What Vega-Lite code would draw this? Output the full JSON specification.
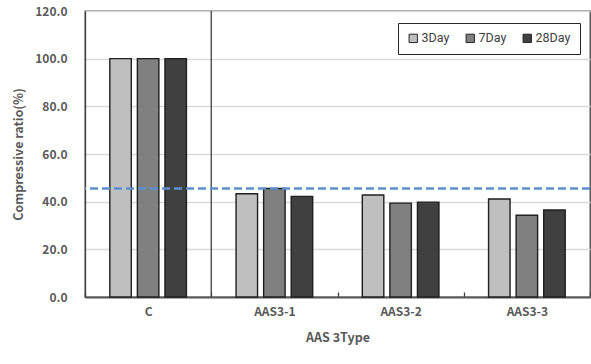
{
  "$schema": "https://vega.github.io/schema/vega-lite/v6.json",
  "width": 505,
  "height": 286,
  "autosize": {"type": "none"},
  "padding": {"left": 85, "top": 11, "right": 1, "bottom": 67},
  "background": "white",
  "config": {
    "font": "Noto Sans CJK KR",
    "view": {"stroke": "#404040", "strokeWidth": 1.3}
  },
  "datasets": {
    "strength": [
      {"type": "C", "day": "3Day", "ratio": 100.0},
      {"type": "C", "day": "7Day", "ratio": 100.0},
      {"type": "C", "day": "28Day", "ratio": 100.0},
      {"type": "AAS3-1", "day": "3Day", "ratio": 43.3},
      {"type": "AAS3-1", "day": "7Day", "ratio": 45.5},
      {"type": "AAS3-1", "day": "28Day", "ratio": 42.2},
      {"type": "AAS3-2", "day": "3Day", "ratio": 42.8},
      {"type": "AAS3-2", "day": "7Day", "ratio": 39.4},
      {"type": "AAS3-2", "day": "28Day", "ratio": 39.8},
      {"type": "AAS3-3", "day": "3Day", "ratio": 41.1},
      {"type": "AAS3-3", "day": "7Day", "ratio": 34.3},
      {"type": "AAS3-3", "day": "28Day", "ratio": 36.5}
    ],
    "separator": [{"type": "C"}],
    "reference": [{"ratio": 45.5}]
  },
  "layer": [
    {
      "data": {"name": "strength"},
      "mark": {"type": "bar", "stroke": "#1f1f1f", "strokeWidth": 1.4},
      "encoding": {
        "x": {
          "field": "type",
          "type": "nominal",
          "sort": null,
          "scale": {"domain": ["C", "AAS3-1", "AAS3-2", "AAS3-3"], "paddingInner": 0, "paddingOuter": 0},
          "axis": {
            "title": "AAS 3Type",
            "titleFont": "Noto Sans CJK KR",
            "titleFontSize": 12.5,
            "titleFontWeight": "bold",
            "titleColor": "#595959",
            "titlePadding": 14,
            "labelAngle": 0,
            "labelFont": "Noto Sans CJK KR",
            "labelFontSize": 12,
            "labelFontWeight": "bold",
            "labelColor": "#595959",
            "labelPadding": 14,
            "tickBand": "extent",
            "tickSize": -5,
            "tickColor": "#404040",
            "tickWidth": 1.3,
            "domainColor": "#595959",
            "domainWidth": 2
          }
        },
        "xOffset": {
          "field": "day",
          "type": "nominal",
          "sort": ["3Day", "7Day", "28Day"],
          "scale": {"paddingInner": 0.22, "paddingOuter": 0.9}
        },
        "y": {
          "field": "ratio",
          "type": "quantitative",
          "scale": {"domain": [0, 120], "nice": false},
          "axis": {
            "title": "Compressive ratio(%)",
            "titleFont": "Noto Sans CJK KR",
            "titleFontSize": 12.5,
            "titleFontWeight": "bold",
            "titleColor": "#595959",
            "titlePadding": 9,
            "values": [0, 20, 40, 60, 80, 100, 120],
            "format": ".1f",
            "labelFont": "Noto Sans CJK KR",
            "labelFontSize": 12,
            "labelFontWeight": "bold",
            "labelColor": "#595959",
            "labelPadding": 18,
            "ticks": false,
            "grid": true,
            "gridColor": "#d9d9d9",
            "gridWidth": 1.3,
            "domainColor": "#404040",
            "domainWidth": 1.3
          }
        },
        "color": {
          "field": "day",
          "type": "nominal",
          "sort": ["3Day", "7Day", "28Day"],
          "scale": {"domain": ["3Day", "7Day", "28Day"], "range": ["#bfbfbf", "#808080", "#404040"]},
          "legend": {
            "title": null,
            "orient": "none",
            "legendX": 313,
            "legendY": 12,
            "direction": "horizontal",
            "strokeColor": "#262626",
            "padding": 9,
            "symbolType": "square",
            "symbolSize": 70,
            "symbolStrokeColor": "#262626",
            "symbolStrokeWidth": 1,
            "symbolOpacity": 1,
            "labelFont": "Roboto",
            "labelFontSize": 12.5,
            "labelColor": "#404040",
            "labelOffset": 2,
            "columnPadding": 14
          }
        }
      }
    },
    {
      "data": {"name": "separator"},
      "mark": {"type": "rule", "color": "#404040", "strokeWidth": 1.3},
      "encoding": {
        "x": {"field": "type", "type": "nominal", "sort": null, "bandPosition": 1}
      }
    },
    {
      "data": {"name": "reference"},
      "mark": {"type": "rule", "color": "#5b8fd0", "strokeWidth": 2.5, "strokeDash": [8, 4]},
      "encoding": {
        "y": {"field": "ratio", "type": "quantitative"}
      }
    }
  ]
}
